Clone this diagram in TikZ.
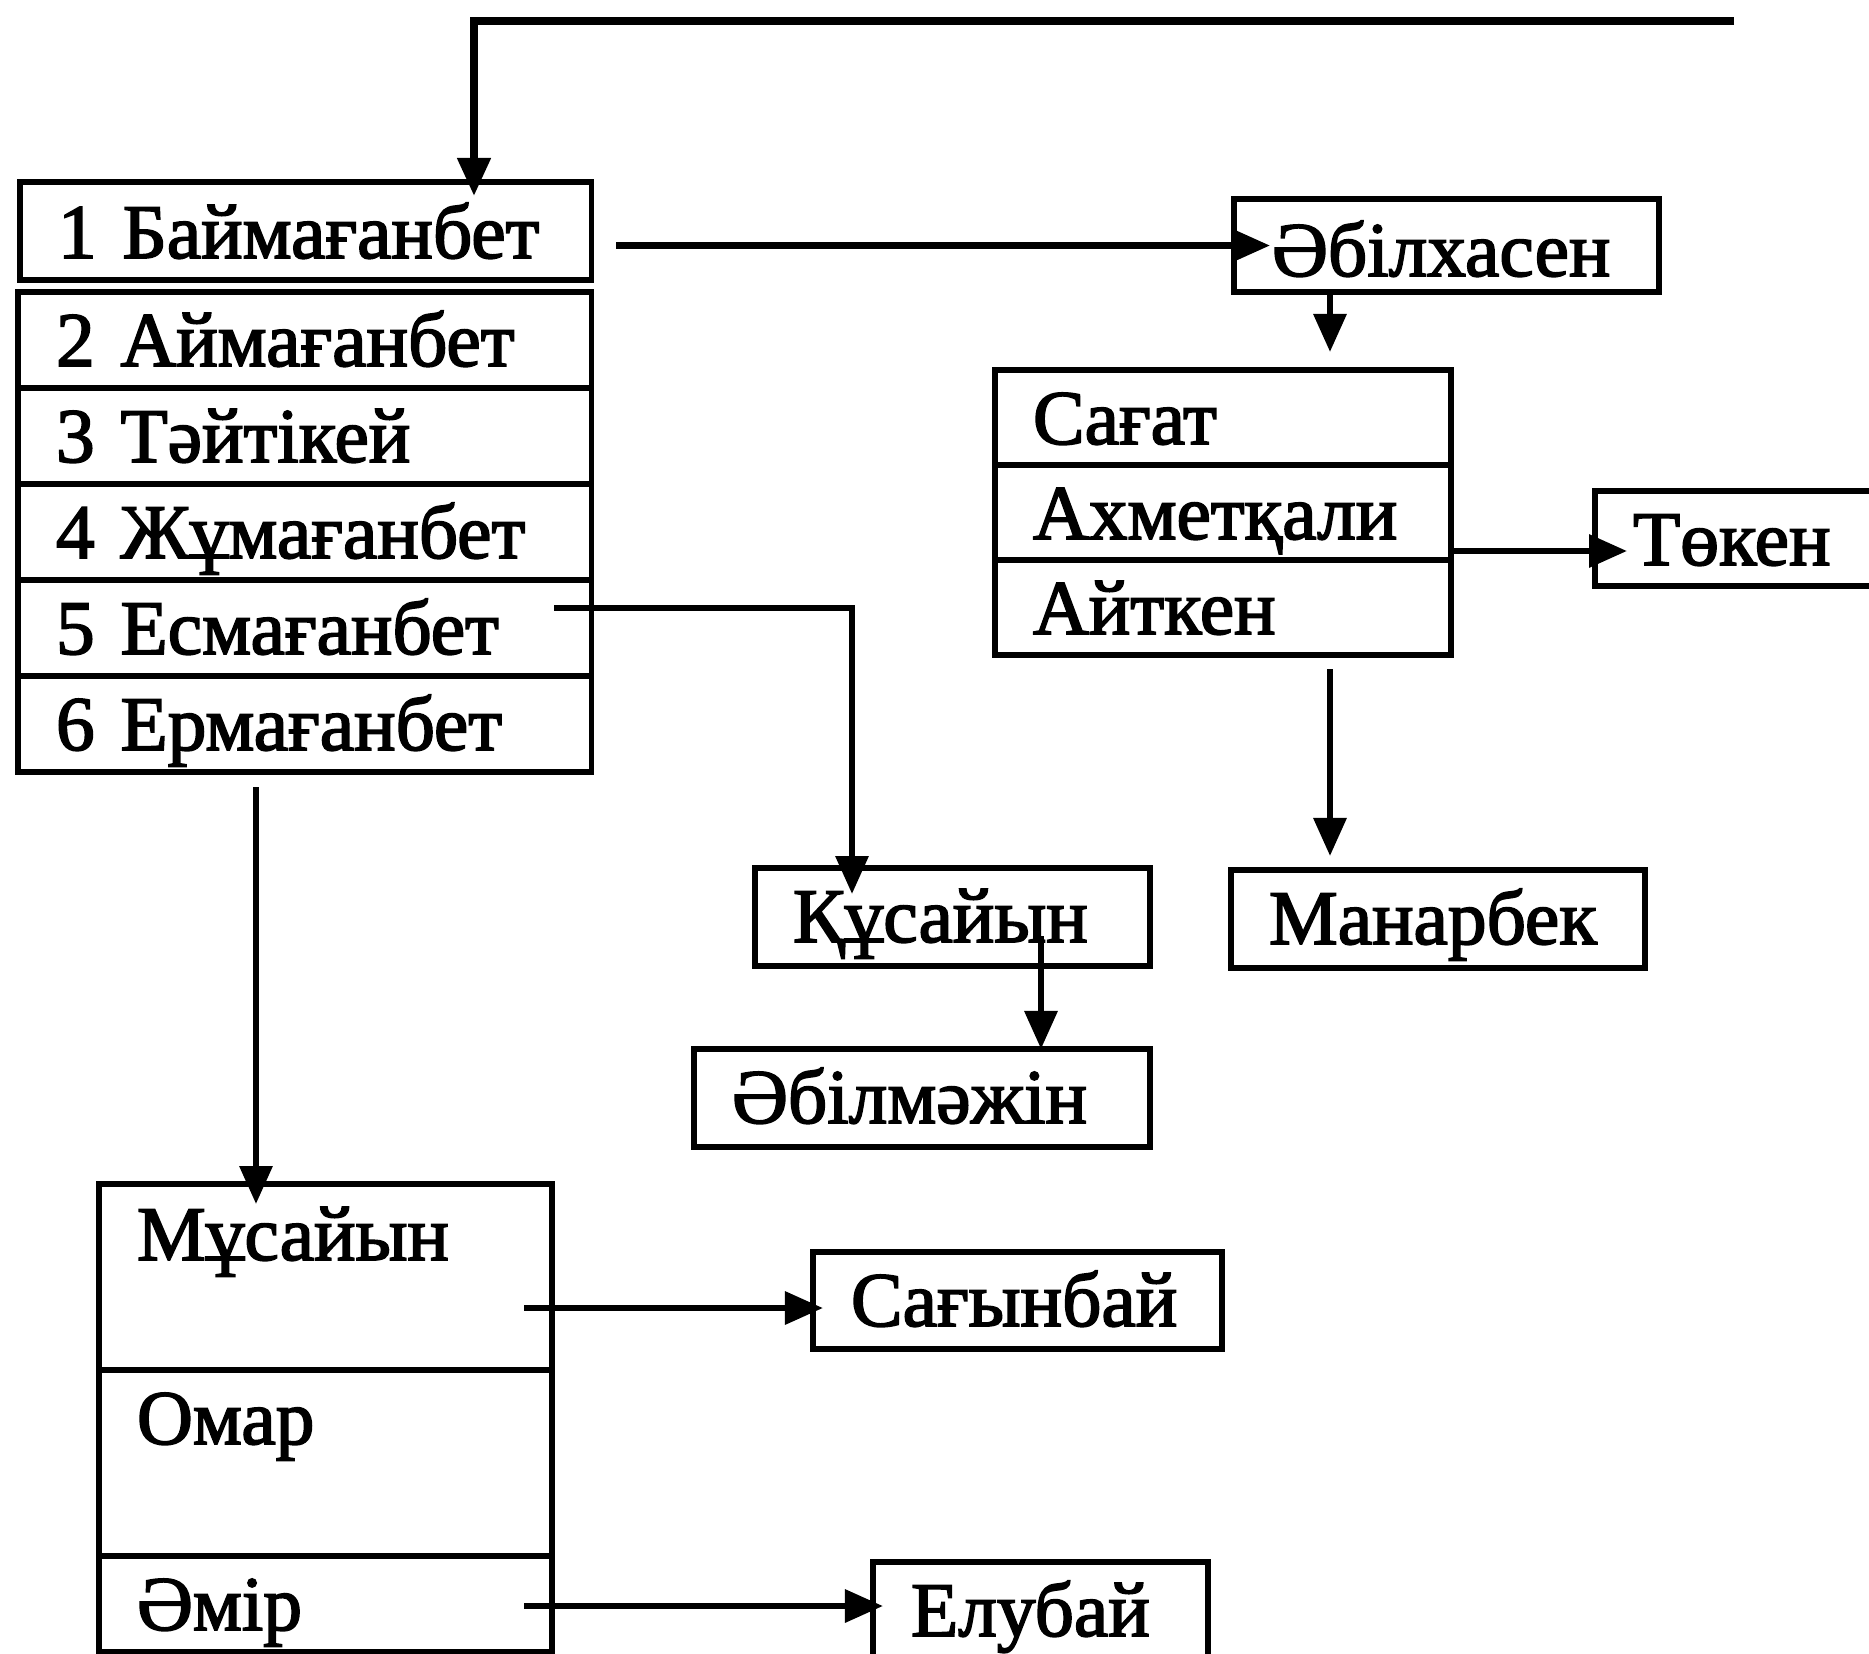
\documentclass[tikz,border=0pt]{standalone}
\usepackage{fontspec}
\setmainfont{Liberation Serif}[FakeBold=2.2]
\usepackage{tikz}
\usetikzlibrary{arrows.meta}

\tikzset{
  namebox/.style={draw, line width=1.6pt, anchor=north west, outer sep=0pt,
    inner xsep=0.38cm, inner ysep=0pt, align=left, text height=0.74cm,
    text depth=0.22cm, font=\fontsize{22}{26}\selectfont},
  link/.style={line width=1.8pt, -{Triangle[length=0.38cm,width=0.32cm]}},
}

\begin{document}
\begin{tikzpicture}[x=0.01cm, y=-0.01cm]
  \useasboundingbox (0,0) rectangle (1869,1654);
  % left column of brothers
  \node[namebox, text width=4.95cm, text height=0.76cm] (b1) at (20,182) {1 Баймағанбет};
  \node[namebox, text width=4.97cm] (b2) at (18,292) {2 Аймағанбет};
  \node[namebox, text width=4.97cm] (b3) at (18,388) {3 Тәйтікей};
  \node[namebox, text width=4.97cm] (b4) at (18,484) {4 Жұмағанбет};
  \node[namebox, text width=4.97cm] (b5) at (18,580) {5 Есмағанбет};
  \node[namebox, text width=4.97cm] (b6) at (18,676) {6 Ермағанбет};
  \node[namebox, text width=3.49cm, text height=0.77cm, text depth=0.16cm] (abx) at (1234,199) {Әбілхасен};
  \node[namebox, text width=3.80cm, text depth=0.21cm] (sg1) at (995,370) {Сағат};
  \node[namebox, text width=3.80cm, text depth=0.21cm] (sg2) at (995,465) {Ахметқали};
  \node[namebox, text width=3.80cm, text depth=0.21cm] (sg3) at (995,560) {Айткен};
  \node[namebox, text width=3.30cm, text depth=0.21cm] (tk) at (1595,491) {Төкен};
  \node[namebox, text width=3.38cm, text depth=0.24cm] (mb) at (1231,870) {Манарбек};
  \node[namebox, text width=3.19cm, text depth=0.24cm] (ks) at (755,868) {Құсайын};
  \node[namebox, text width=3.80cm, text depth=0.24cm] (am) at (694,1049) {Әбілмәжін};
  \node[namebox, text width=3.33cm, text depth=0.23cm] (sb) at (813,1252) {Сағынбай};
  \node[namebox, text width=2.59cm] (eb) at (873,1562) {Елубай};
  \node[namebox, text width=3.77cm, text height=0.76cm, text depth=1.10cm] (ms1) at (99,1184) {Мұсайын};
  \node[namebox, text width=3.77cm, text depth=1.12cm] (ms2) at (99,1370) {Омар};
  \node[namebox, text width=3.77cm] (ms3) at (99,1556) {Әмір};
  % lanes the connectors run along
  \coordinate (topR) at (1734,21);
  \coordinate (topL) at (474,21);
  \coordinate (ahx) at (1330,0);
  \coordinate (colK) at (852,0);
  \coordinate (colA) at (1041,0);
  \coordinate (colE) at (256,0);
  \coordinate (rowT) at (0,551);
  \coordinate (rowK) at (0,608);
  \coordinate (rowS) at (0,1308);
  \coordinate (rowE) at (0,1606);
  \draw[link, line width=2.2pt, shorten >=-0.14cm] (topR) -- (topL) -- (topL |- b1.north);
  \draw[link, shorten <=0.25cm, shorten >=-0.36cm] (b1.east |- abx.west) -- (abx.west);
  \draw[link, shorten >=0.18cm] (abx.south -| ahx) -- (sg1.north -| ahx);
  \draw[link, shorten >=-0.32cm] (sg2.east |- rowT) -- (tk.west |- rowT);
  \draw[link, shorten <=0.14cm, shorten >=0.14cm] (sg3.south -| ahx) -- (mb.north -| ahx);
  \draw[link, shorten <=-0.37cm, shorten >=-0.26cm] (b5.east |- rowK) -| (ks.north -| colK);
  \draw[link, shorten <=-0.30cm] (ks.south -| colA) -- (am.north -| colA);
  \draw[link, shorten <=0.15cm, shorten >=-0.20cm] (b6.south -| colE) -- (ms1.north -| colE);
  \draw[link, shorten <=-0.28cm, shorten >=-0.10cm] (ms1.east |- rowS) -- (sb.west |- rowS);
  \draw[link, shorten <=-0.28cm, shorten >=-0.10cm] (ms3.east |- rowE) -- (eb.west |- rowE);
\end{tikzpicture}
\end{document}
